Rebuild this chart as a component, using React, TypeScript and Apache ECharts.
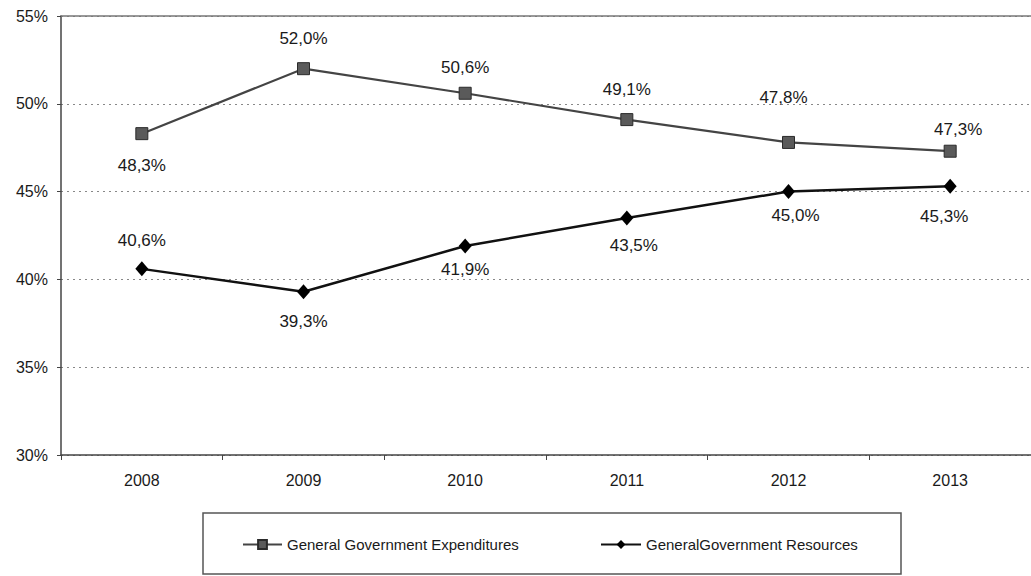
import React, { useEffect, useRef } from "react";
import * as echarts from "echarts";

const years = ["2008", "2009", "2010", "2011", "2012", "2013"];
const expenditures = [48.3, 52.0, 50.6, 49.1, 47.8, 47.3];
const resources = [40.6, 39.3, 41.9, 43.5, 45.0, 45.3];
const yTicks = { min: 30, max: 55, step: 5 };
const expName = "General Government Expenditures";
const resName = "GeneralGovernment Resources";

// label placement (style only): [position, distance, dx]
const expLabelPlace: [string, number, number][] = [
  ["bottom", 17, 0],
  ["top", 15, 0],
  ["top", 11, 0],
  ["top", 15, 0],
  ["top", 30, -5],
  ["top", 7, 8],
];
const resLabelPlace: [string, number, number][] = [
  ["top", 12, 0],
  ["bottom", 14, 0],
  ["bottom", 7, 0],
  ["bottom", 12, 7],
  ["bottom", 8, 7],
  ["bottom", 14, -6],
];

const FONT = "'Liberation Sans', Arial, sans-serif";
const fmt = (v: number) => v.toFixed(1).replace(".", ",") + "%";

export default function App() {
  const ref = useRef<HTMLDivElement>(null);
  useEffect(() => {
    if (!ref.current) return;
    const chart = echarts.init(ref.current, undefined, { renderer: "svg" });
    const mk = (vals: number[], place: [string, number, number][]) =>
      vals.map((v, i) => ({
        value: v,
        label: {
          position: place[i][0],
          distance: place[i][1],
          offset: [place[i][2], 0],
        },
      }));
    chart.setOption({
      animation: false,
      backgroundColor: "#ffffff",
      textStyle: { fontFamily: FONT },
      grid: { left: 61, top: 16, width: 972, bottom: 121, containLabel: false },
      xAxis: [
        {
          type: "category",
          data: years,
          boundaryGap: true,
          axisLine: { show: true, lineStyle: { color: "#444", width: 1.5 } },
          axisTick: { show: true, alignWithLabel: false, length: 5, lineStyle: { color: "#444" } },
          axisLabel: { color: "#1a1a1a", fontSize: 16, margin: 17, fontFamily: FONT },
          splitLine: { show: false },
        },
        {
          type: "category",
          data: years,
          position: "top",
          axisLine: { show: true, lineStyle: { color: "#777", width: 1.5 } },
          axisTick: { show: false },
          axisLabel: { show: false },
        },
      ],
      yAxis: {
        type: "value",
        min: yTicks.min,
        max: yTicks.max,
        interval: yTicks.step,
        axisLine: { show: true, lineStyle: { color: "#444", width: 1.5 } },
        axisTick: { show: true, length: 4, lineStyle: { color: "#444" } },
        axisLabel: { formatter: "{value}%", color: "#1a1a1a", fontSize: 16, margin: 13, fontFamily: FONT },
        splitLine: { show: true, lineStyle: { type: [2, 4], color: "#888", width: 1 } },
      },
      legend: [
        {
          data: [expName],
          left: 237,
          top: 532,
          itemWidth: 39,
          itemHeight: 11,
          textStyle: { fontSize: 15, color: "#1a1a1a", fontFamily: FONT },
        },
        {
          data: [resName],
          left: 595,
          top: 532,
          itemWidth: 40,
          itemHeight: 11,
          textStyle: { fontSize: 15, color: "#1a1a1a", fontFamily: FONT },
        },
      ],
      graphic: [
        {
          type: "rect",
          shape: { x: 203, y: 513, width: 698, height: 61 },
          style: { fill: "none", stroke: "#555", lineWidth: 1.5 },
          silent: true,
        },
      ],
      series: [
        {
          name: expName,
          type: "line",
          data: mk(expenditures, expLabelPlace),
          symbol: "rect",
          symbolSize: 12,
          lineStyle: { color: "#444", width: 2.2 },
          itemStyle: { color: "#5a5a5a", borderColor: "#2a2a2a", borderWidth: 1 },
          label: {
            show: true,
            formatter: (p: any) => fmt(p.value),
            fontSize: 17,
            color: "#1a1a1a",
            fontFamily: FONT,
          },
          z: 3,
        },
        {
          name: resName,
          type: "line",
          data: mk(resources, resLabelPlace),
          symbol: "diamond",
          symbolSize: [13, 15],
          lineStyle: { color: "#111", width: 2.5 },
          itemStyle: { color: "#000" },
          label: {
            show: true,
            formatter: (p: any) => fmt(p.value),
            fontSize: 17,
            color: "#1a1a1a",
            fontFamily: FONT,
          },
          z: 3,
        },
      ],
    });
    return () => chart.dispose();
  }, []);
  return (
    <div
      ref={ref}
      style={{ position: "fixed", left: 0, top: 0, width: 1031, height: 576, background: "#fff" }}
    />
  );
}
